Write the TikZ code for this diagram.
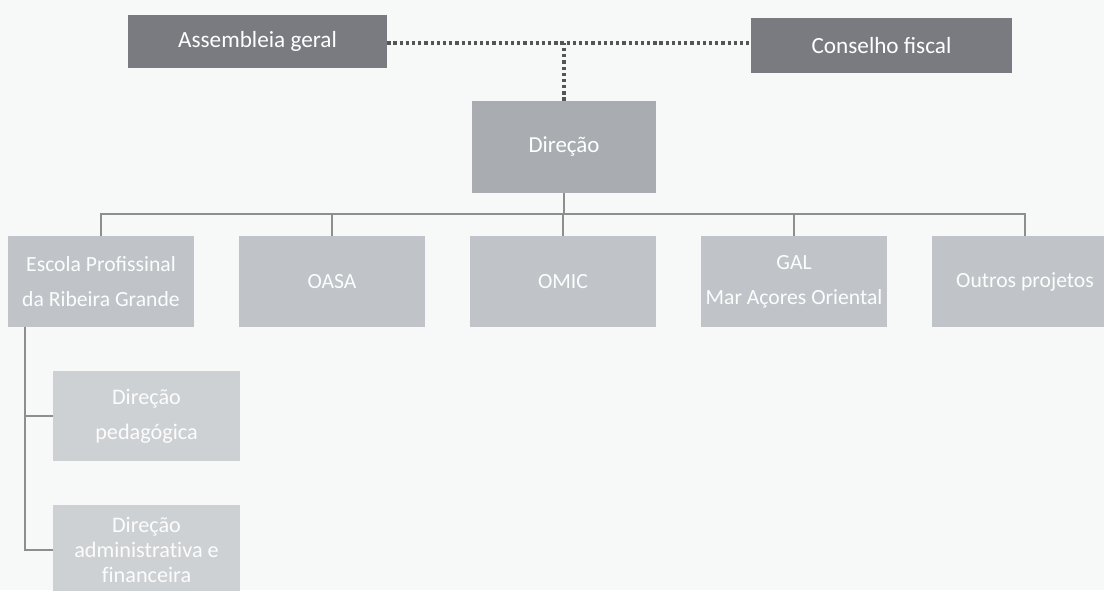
\documentclass[tikz,border=0pt]{standalone}
\usepackage{fontspec}
\setmainfont{Carlito}
\usetikzlibrary{positioning}

\definecolor{pagebg}{HTML}{F7F8F8}
\definecolor{topgray}{HTML}{797B80}
\definecolor{dirgray}{HTML}{A9ADB1}
\definecolor{unitgray}{HTML}{C0C4C8}
\definecolor{subgray}{HTML}{CED1D4}
\definecolor{linegray}{HTML}{8E8E8E}
\definecolor{dotgray}{HTML}{555555}

\begin{document}
\begin{tikzpicture}[
    % Top level box style - dark gray
    topbox/.style={
        rectangle,
        fill=topgray,
        text=white,
        minimum width=6.5cm,
        minimum height=1.35cm,
        font=\fontsize{16.5}{19}\selectfont
    },
    % Direction box style
    dirbox/.style={
        rectangle,
        fill=dirgray,
        text=white,
        minimum width=4.6cm,
        minimum height=2.3cm,
        font=\fontsize{16.3}{19}\selectfont
    },
    % Unit box style - light gray
    unitbox/.style={
        rectangle,
        fill=unitgray,
        text=white!96!unitgray,
        minimum width=4.65cm,
        minimum height=2.275cm,
        inner sep=1pt,
        align=center,
        font=\fontsize{15.4}{25}\selectfont
    },
    % Sub unit box style - lighter gray
    subbox/.style={
        rectangle,
        fill=subgray,
        text=white!94!subgray,
        minimum width=4.675cm,
        minimum height=2.25cm,
        inner sep=1pt,
        align=center,
        font=\fontsize{15.8}{25}\selectfont
    },
    % Dotted link style
    dotline/.style={
        draw=dotgray,
        line width=2.6pt,
        dash pattern=on 2.3pt off 2.1pt
    },
    % Tree line style
    treeline/.style={
        draw=linegray,
        line width=1.5pt
    }
]

% === Page background ===
\fill[pagebg] (0, 0) rectangle (27.6, -14.75);
\useasboundingbox (0, 0) rectangle (27.6, -14.75);
\clip (0, 0) rectangle (27.6, -14.75);

% === Level 1: Assembleia / Conselho ===
\node[topbox, minimum width=6.475cm, minimum height=1.325cm] (asm) at (6.4375, -1.0375) {Assembleia geral};
\node[topbox, minimum width=6.525cm, minimum height=1.375cm] (cf) at (22.0375, -1.1375) {Conselho fiscal};

% === Level 2: Direcao ===
\node[dirbox] (dir) at (14.1, -3.675) {Direção};

% === Level 3: units ===
\node[unitbox] (escola) at (2.525, -7.0375) {Escola Profissinal\\da Ribeira Grande};
\node[unitbox] (oasa) at (8.3, -7.0375) {OASA};
\node[unitbox] (omic) at (14.075, -7.0375) {OMIC};
\node[unitbox] (gal) at (19.85, -7.0375) {GAL\\Mar Açores Oriental};
\node[unitbox] (outros) at (25.625, -7.0375) {Outros projetos};

% === Level 4: school sub units ===
\node[subbox] (pedag) at (3.6625, -10.4) {Direção\\pedagógica};
\node[subbox, font=\fontsize{15.8}{18}\selectfont\addfontfeatures{Ligatures=NoCommon}] (admfin) at (3.6625, -13.75)
      {Direção\\administrativa e\\financeira};

% === Dotted links at the top ===
\coordinate (busy) at (0, -5.35);
\coordinate (topy) at (0, -1.075);
\draw[dotline] (asm.east |- topy) -- (cf.west |- topy);
\draw[dotline] (dir.north) -- (dir.north |- topy);

% === Tree lines from Direcao ===
\draw[treeline] (dir.south) -- (dir.south |- busy);
\draw[treeline] (escola.north) -- (escola.north |- busy) -- (outros.north |- busy) -- (outros.north);
\draw[treeline] (oasa.north) -- (oasa.north |- busy);
\draw[treeline] (omic.north) -- (omic.north |- busy);
\draw[treeline] (gal.north) -- (gal.north |- busy);

% === Tree lines under Escola ===
\coordinate (sidex) at (0.625, 0);
\draw[treeline] (escola.south -| sidex) -- (admfin.west -| sidex) -- (admfin.west);
\draw[treeline] (pedag.west -| sidex) -- (pedag.west);

\end{tikzpicture}
\end{document}
